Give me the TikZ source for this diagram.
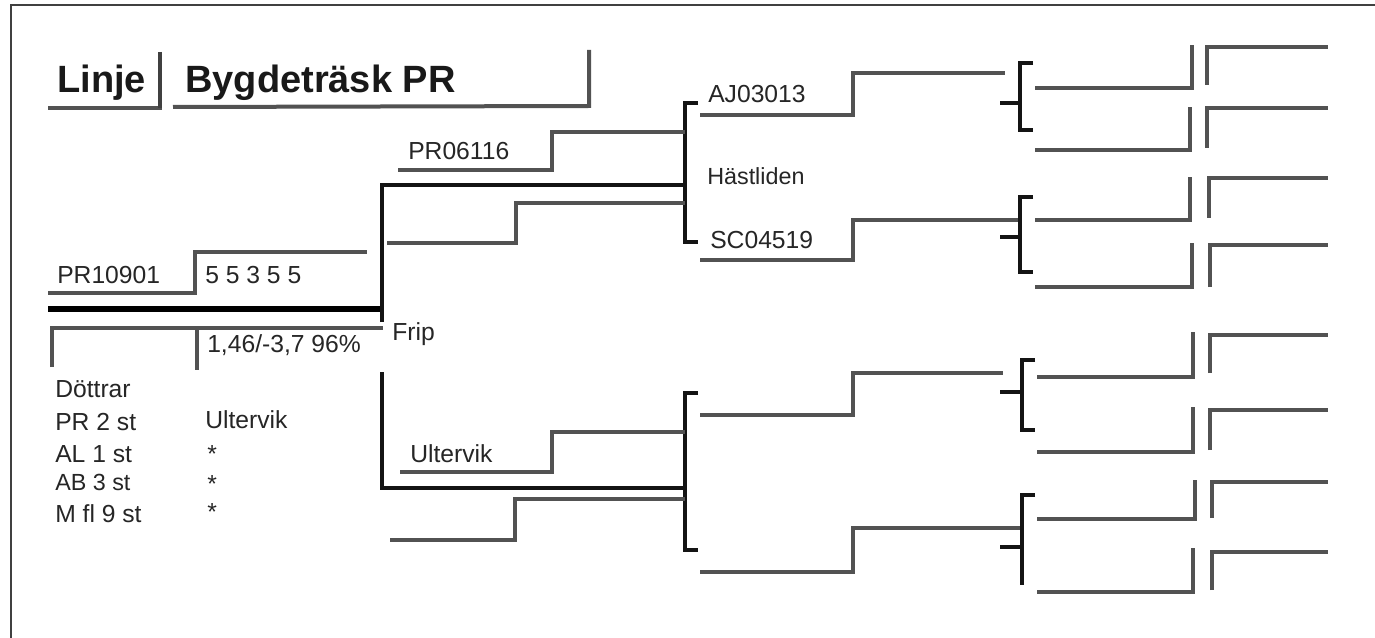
\documentclass[tikz,border=0pt]{standalone}
\usepackage{fontspec}
\setmainfont{Liberation Sans}
\begin{document}
\begin{tikzpicture}[x=0.75pt,y=-0.75pt,
  gl/.style={draw=black!68,line width=3pt,line join=miter},
  bl/.style={draw=black!92,line width=3.6pt,line join=miter},
  tl/.style={draw=black,line width=4.8pt,line join=miter},
  fr/.style={draw=black!75,line width=1.2pt},
  txt/.style={inner sep=0pt,anchor=base west,text=black!85,font=\fontsize{18.5pt}{20pt}\selectfont},
  small/.style={txt,font=\fontsize{17.5pt}{19pt}\selectfont},
  ttl/.style={inner sep=0pt,anchor=base west,text=black!90,font=\fontsize{28.5pt}{30pt}\selectfont\bfseries}]
\useasboundingbox (0,0) rectangle (1375,638);
\fill[white] (0,0) rectangle (1375,638);
% frame
\draw[fr] (11,638) -- (11,5) -- (1375,5);
% title
\node[ttl] (linje) at (57,93) {Linje};
\node[ttl] (bygd) at (185,93) {Bygdeträsk PR};
\draw[gl] (48,108) -- (162,108);
\draw[bl,draw=black!75] (160,52) -- (160,108);
\draw[gl] (173,107) -- (589,106) -- (589,50);
% left block
\node[txt] (pr10901) at (57,283) {PR10901};
\node[txt] (ind) at (205,283) {5 5 3 5 5};
\node[txt] (val) at (207,352) {1,46/-3,7 96\%};
\node[txt] (frip) at (392,340) {Frip};
\draw[gl] (48,293) -- (195,293) -- (195,252) -- (367,252);
\draw[tl] (48,309) -- (382,309);
\draw[bl] (382,322) -- (382,185) -- (683,185);
\draw[gl] (52,367) -- (52,328) -- (383,328);
\draw[gl] (197,328) -- (197,370);
\draw[bl] (382,372) -- (382,488) -- (685,488);
% daughters
\node[txt] (dottrar) at (55,397) {Döttrar};
\node[txt] (pr2) at (55,430) {PR 2 st};
\node[txt] (al1) at (55,462) {AL 1 st};
\node[small] (ab3) at (55,490) {AB 3 st};
\node[txt] (mfl) at (55,522) {M fl 9 st};
\node[txt] (ult1) at (205,428) {Ultervik};
\node[txt] (s1) at (207,462) {*};
\node[txt] (s2) at (207,492) {*};
\node[txt] (s3) at (207,520) {*};
% upper parent bracket
\draw[bl] (698,103) -- (685,103) -- (685,242) -- (698,242);
\node[txt] (pr06116) at (408,160) {PR06116};
\draw[gl] (398,170) -- (552,170) -- (552,132) -- (685,132);
\draw[gl] (685,203) -- (516,203) -- (516,243) -- (387,243);
\node[txt] (aj) at (708,103) {AJ03013};
\node[small] (hast) at (707,185) {Hästliden};
\node[txt] (sc) at (710,248) {SC04519};
\draw[gl] (700,115) -- (853,115) -- (853,73) -- (1005,73);
\draw[gl] (700,260) -- (853,260) -- (853,220) -- (1018,220);
% lower parent bracket
\draw[bl] (698,393) -- (685,393) -- (685,550) -- (698,550);
\node[txt] (ult2) at (410,462) {Ultervik};
\draw[gl] (400,472) -- (552,472) -- (552,432) -- (685,432);
\draw[gl] (685,499) -- (515,499) -- (515,540) -- (390,540);
\draw[gl] (700,415) -- (853,415) -- (853,373) -- (1003,373);
\draw[gl] (700,572) -- (853,572) -- (853,528) -- (1020,528);
% grandparent brackets
\draw[bl] (1033,63) -- (1020,63) -- (1020,130) -- (1033,130);
\draw[bl] (1000,103) -- (1020,103);
\draw[bl] (1033,197) -- (1020,197) -- (1020,272) -- (1033,272);
\draw[bl] (1000,237) -- (1020,237);
\draw[bl] (1035,360) -- (1022,360) -- (1022,430) -- (1035,430);
\draw[bl] (1000,392) -- (1022,392);
\draw[bl] (1035,495) -- (1022,495) -- (1022,585);
\draw[bl] (1000,547) -- (1022,547);
% middle column
\draw[gl] (1035,88) -- (1192,88) -- (1192,45);
\draw[gl] (1035,150) -- (1190,150) -- (1190,107);
\draw[gl] (1035,220) -- (1190,220) -- (1190,177);
\draw[gl] (1035,287) -- (1192,287) -- (1192,243);
\draw[gl] (1037,377) -- (1193,377) -- (1193,332);
\draw[gl] (1037,452) -- (1193,452) -- (1193,407);
\draw[gl] (1037,519) -- (1195,519) -- (1195,480);
\draw[gl] (1037,592) -- (1193,592) -- (1193,548);
% right column
\draw[gl] (1207,85) -- (1207,47) -- (1328,47);
\draw[gl] (1207,148) -- (1207,108) -- (1328,108);
\draw[gl] (1209,218) -- (1209,178) -- (1328,178);
\draw[gl] (1210,287) -- (1210,245) -- (1328,245);
\draw[gl] (1210,373) -- (1210,335) -- (1328,335);
\draw[gl] (1210,450) -- (1210,410) -- (1328,410);
\draw[gl] (1212,518) -- (1212,482) -- (1328,482);
\draw[gl] (1212,590) -- (1212,552) -- (1328,552);
\end{tikzpicture}
\end{document}
